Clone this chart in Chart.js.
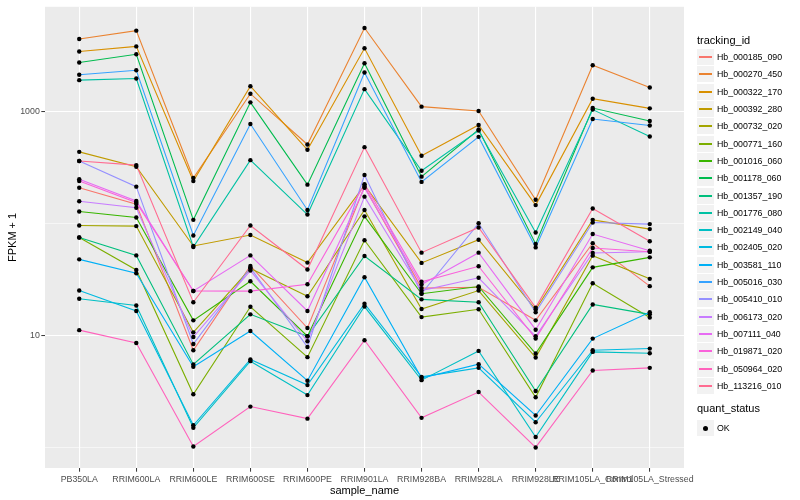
<!DOCTYPE html>
<html><head><meta charset="utf-8">
<script src="https://cdn.jsdelivr.net/npm/chart.js@4.4.1/dist/chart.umd.min.js"></script>
<style>
html,body{margin:0;padding:0;background:#fff;}
#wrap{position:relative;width:800px;height:500px;font-family:"Liberation Sans",Arial,sans-serif;overflow:hidden;}
#c{position:absolute;left:0;top:0;}
.lg-title{position:absolute;left:697px;font-size:11px;color:#000;line-height:13px;white-space:nowrap;}
.lg-key{position:absolute;left:697px;width:17px;height:16px;background:#F2F2F2;}
.lg-line{position:absolute;left:2px;width:13px;top:7.3px;height:1.5px;}
.lg-dot{position:absolute;left:6px;top:6px;width:5px;height:5px;border-radius:50%;background:#000;}
.lg-text{position:absolute;left:717px;font-size:8.8px;color:#000;line-height:11px;white-space:nowrap;}
</style>
</head><body>
<div id="wrap"><canvas id="c" width="800" height="500"></canvas><div id="legend"></div></div>
<script>
// ---- data (FPKM + 1) ----
const samples = ['PB350LA','RRIM600LA','RRIM600LE','RRIM600SE','RRIM600PE','RRIM901LA','RRIM928BA','RRIM928LA','RRIM928LE','RRIM105LA_Control','RRIM105LA_Stressed'];
const trackingIds = ['Hb_000185_090','Hb_000270_450','Hb_000322_170','Hb_000392_280','Hb_000732_020','Hb_000771_160','Hb_001016_060','Hb_001178_060','Hb_001357_190','Hb_001776_080','Hb_002149_040','Hb_002405_020','Hb_003581_110','Hb_005016_030','Hb_005410_010','Hb_006173_020','Hb_007111_040','Hb_019871_020','Hb_050964_020','Hb_113216_010'];
const Hb_000185_090 = [210, 150, 7.4, 42, 11.7, 214, 26.6, 27.1, 13.7, 67, 27.7];
const Hb_000270_450 = [4500, 5340, 257, 1457, 512, 5640, 1116, 1020, 164, 2620, 1658];
const Hb_000322_170 = [3470, 3860, 241, 1700, 459, 3710, 406, 766, 147, 1315, 1078];
const Hb_000392_280 = [440, 324, 63.3, 79.3, 45, 222, 44.7, 72, 17.1, 108.5, 89.7];
const Hb_000732_020 = [96.6, 95.4, 10.7, 39.8, 22.5, 133, 17.3, 25.3, 6.37, 51.9, 32.2];
const Hb_000771_160 = [75.5, 38.7, 2.99, 18.1, 6.42, 71.3, 14.65, 17.2, 2.81, 29.4, 14.5];
const Hb_001016_060 = [128.7, 113.8, 13.7, 30.6, 9.87, 116.6, 23.7, 27.5, 6.92, 40.8, 50.1];
const Hb_001178_060 = [2770, 3280, 108.5, 1219, 224, 2730, 264, 697, 66, 1085, 831];
const Hb_001357_190 = [75.5, 52.2, 5.52, 15.5, 9.87, 51.6, 21.1, 19.9, 3.2, 19.0, 15.5];
const Hb_001776_080 = [1926, 1994, 62, 371, 121, 1601, 298, 683, 83.7, 1050, 604];
const Hb_002149_040 = [21.4, 18.6, 1.5, 5.91, 2.94, 18.2, 4.0, 7.3, 1.24, 7.15, 6.96];
const Hb_002405_020 = [25.3, 16.6, 1.58, 6.12, 3.61, 19.3, 4.28, 5.15, 1.68, 7.4, 7.66];
const Hb_003581_110 = [48.1, 36.1, 5.26, 11.0, 3.95, 33.3, 4.17, 5.56, 1.93, 9.41, 16.2];
const Hb_005016_030 = [2150, 2360, 78.7, 781, 133, 2255, 237, 599, 61.5, 866, 756];
const Hb_005410_010 = [364, 215, 8.42, 40.6, 7.92, 273, 23.8, 101, 16.2, 102.7, 99.4];
const Hb_006173_020 = [159, 139, 9.72, 38.2, 8.9, 175, 25.3, 32.9, 9.87, 54.9, 56.3];
const Hb_007111_040 = [250, 160, 25.1, 52.2, 16.6, 210, 28.6, 55.2, 11.3, 81, 57.5];
const Hb_019871_020 = [241, 155, 25.1, 25, 28.8, 226, 30.3, 41.7, 9.41, 60.8, 56.3];
const Hb_050964_020 = [11.2, 8.6, 1.02, 2.32, 1.81, 9.09, 1.84, 3.13, 1.0, 4.88, 5.15];
const Hb_113216_010 = [364, 335, 19.9, 96.6, 39, 485, 55.2, 92.7, 17.8, 137, 69.9];
const seriesValues = [Hb_000185_090, Hb_000270_450, Hb_000322_170, Hb_000392_280, Hb_000732_020, Hb_000771_160, Hb_001016_060, Hb_001178_060, Hb_001357_190, Hb_001776_080, Hb_002149_040, Hb_002405_020, Hb_003581_110, Hb_005016_030, Hb_005410_010, Hb_006173_020, Hb_007111_040, Hb_019871_020, Hb_050964_020, Hb_113216_010];
const yTickValues = [1, 10, 100, 1000];
const yTickLabels = {10: '10', 1000: '1000'};
const quantStatus = ['OK'];

// ---- styling ----
const colors = ['#F8766D','#EA8331','#D89000','#C09B00','#A3A500','#7CAE00','#39B600','#00BB4E','#00BF7D','#00C1A3','#00BFC4','#00BAE0','#00B0F6','#35A2FF','#9590FF','#C77CFF','#E76BF3','#FA62DB','#FF62BC','#FF6C91'];

const datasets = trackingIds.map((id, i) => ({
  label: id,
  data: seriesValues[i].map((v, j) => ({x: j, y: v})),
  borderColor: colors[i],
  backgroundColor: colors[i],
  borderWidth: 1.1,
  pointRadius: 0,
  tension: 0,
  order: trackingIds.length - i
}));
const allPoints = [];
seriesValues.forEach(s => s.forEach((v, j) => allPoints.push({x: j, y: v})));
datasets.push({
  label: 'points',
  data: allPoints,
  showLine: false,
  pointRadius: 2.2,
  pointBackgroundColor: '#000',
  pointBorderColor: '#000',
  pointBorderWidth: 0,
  order: -1
});

const panelBg = {
  id: 'panelBg',
  beforeDraw(chart) {
    const {ctx, chartArea: a} = chart;
    ctx.save();
    ctx.fillStyle = '#EBEBEB';
    ctx.fillRect(a.left, a.top, a.right - a.left, a.bottom - a.top);
    ctx.restore();
  }
};

const FONT = '"Liberation Sans", Arial, sans-serif';
new Chart(document.getElementById('c'), {
  type: 'line',
  data: {datasets},
  plugins: [panelBg],
  options: {
    responsive: false,
    animation: false,
    layout: {padding: {left: 0, right: 116, top: 5, bottom: 0}},
    plugins: {legend: {display: false}, tooltip: {enabled: false}},
    scales: {
      x: {
        type: 'linear',
        min: -0.6, max: samples.length - 0.4,
        afterBuildTicks: s => { s.ticks = samples.map((_, i) => ({value: i})); },
        afterFit: s => { s.height = 32; },
        border: {display: false},
        grid: {color: '#FFFFFF', lineWidth: 1.1, tickColor: '#333333', tickLength: 3.7, tickWidth: 1},
        ticks: {
          autoSkip: false, maxRotation: 0, minRotation: 0, padding: 2.2,
          color: '#4D4D4D', font: {family: FONT, size: 8.8},
          callback: v => samples[v]
        },
        title: {display: true, text: 'sample_name', color: '#000', font: {family: FONT, size: 11}, padding: {top: 0, bottom: 2}}
      },
      y: {
        type: 'logarithmic',
        min: 0.655, max: 8726,
        afterBuildTicks: s => { s.ticks = yTickValues.map(v => ({value: v})); },
        afterFit: s => { s.width = 45; },
        border: {display: false},
        grid: {
          color: '#FFFFFF',
          lineWidth: c => (c.tick && yTickLabels[c.tick.value]) ? 1.1 : 0.55,
          tickColor: c => (c.tick && yTickLabels[c.tick.value]) ? '#333333' : 'rgba(0,0,0,0)',
          tickLength: 3.7, tickWidth: 1
        },
        ticks: {
          padding: 1.5, color: '#4D4D4D', font: {family: FONT, size: 8.8},
          callback: v => yTickLabels[v] || ''
        },
        title: {display: true, text: 'FPKM + 1', color: '#000', font: {family: FONT, size: 11}, padding: {top: 6, bottom: 0}}
      }
    }
  }
});

// ---- legend (HTML) ----
const lg = document.getElementById('legend');
function add(cls, css, html) { const d = document.createElement('div'); d.className = cls; Object.assign(d.style, css); if (html !== undefined) d.innerHTML = html; lg.appendChild(d); return d; }
add('lg-title', {top: '34px'}, 'tracking_id');
const top0 = 49.1, step = 17.3;
trackingIds.forEach((id, i) => {
  const t = Math.round(top0 + i * step);
  const k = add('lg-key', {top: t + 'px'});
  const l = document.createElement('div'); l.className = 'lg-line'; l.style.background = colors[i]; k.appendChild(l);
  add('lg-text', {top: (t + 3) + 'px'}, id);
});
add('lg-title', {top: '402px'}, 'quant_status');
quantStatus.forEach((q, i) => {
  const t = Math.round(420 + i * step);
  const k = add('lg-key', {top: t + 'px'});
  const d = document.createElement('div'); d.className = 'lg-dot'; k.appendChild(d);
  add('lg-text', {top: (t + 3) + 'px'}, q);
});
</script>
</body></html>
